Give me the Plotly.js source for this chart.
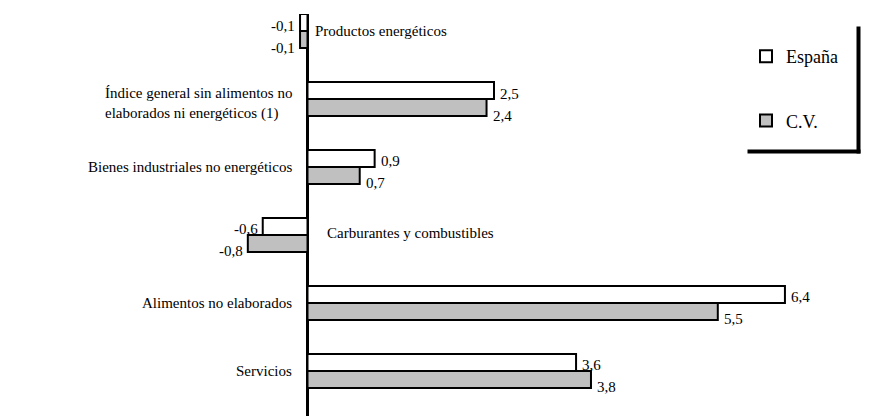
<!DOCTYPE html>
<html>
<head>
<meta charset="utf-8">
<script src="https://cdn.plot.ly/plotly-3.0.1.min.js"></script>
<style>
  html, body { margin: 0; padding: 0; background: #ffffff; }
  #chart { width: 893px; height: 416px; }
</style>
</head>
<body>
<div id="chart"></div>
<script>
// ---- data ----
var categories = [
  "Productos energéticos",
  "Índice general sin alimentos no<br>elaborados ni energéticos (1)",
  "Bienes industriales no energéticos",
  "Carburantes y combustibles",
  "Alimentos no elaborados",
  "Servicios"
];
var espana = [-0.1, 2.5, 0.9, -0.6, 6.4, 3.6];
var cv = [-0.1, 2.4, 0.7, -0.8, 5.5, 3.8];
var seriesNames = ["España", "C.V."];

// ---- styles ----
var FONT = "Liberation Serif";
var W = 893, H = 416, MT = 14, MB = 0;
var AXIS_PX = 307.5, PX_PER_UNIT = 74.6;
var xRange = [-AXIS_PX / PX_PER_UNIT, (W - AXIS_PX) / PX_PER_UNIT];
var bargap = 0.5;
var yRange = [5.662, -0.25];
// label shift (pixels) for labels drawn on the right of the axis
var rightLabelShift = {0: 6, 3: 18};

function fmt(v) { return v.toFixed(1).replace(".", ","); }

var traces = [
  {
    type: "bar", orientation: "h", name: seriesNames[0],
    y: categories, x: espana,
    marker: { color: "#ffffff", line: { color: "#000000", width: 2 } },
    legendgroup: "a", hoverinfo: "x+y"
  },
  {
    type: "bar", orientation: "h", name: seriesNames[1],
    y: categories, x: cv,
    marker: { color: "#c0c0c0", line: { color: "#000000", width: 2 } },
    legendgroup: "b", hoverinfo: "x+y"
  }
];

var annotations = [];
var half = (1 - bargap) / 4; // offset of each bar centre from category centre
categories.forEach(function (c, i) {
  // category label
  var neg = espana[i] < 0 && cv[i] < 0;
  var multi = c.indexOf("<br>") >= 0;
  annotations.push({
    x: 0, y: i, xref: "x", yref: "y",
    text: c, showarrow: false,
    xanchor: neg ? "left" : "right", yanchor: "middle",
    align: "left",
    xshift: neg ? (rightLabelShift[i] || 10) - 1 : -14,
    yshift: multi ? -4 : (neg && i > 0 ? 2 : 0),
    font: { family: FONT, size: 15, color: "#000000" }
  });
  // value labels
  [[espana, -half, -3], [cv, half, -8]].forEach(function (s) {
    var v = s[0][i];
    annotations.push({
      x: v, y: i + s[1], xref: "x", yref: "y",
      text: fmt(v), showarrow: false,
      xanchor: v < 0 ? "right" : "left", yanchor: "middle",
      xshift: v < 0 ? -3 : 4, yshift: s[2],
      font: { family: FONT, size: 15, color: "#000000" }
    });
  });
});

function px(x) { return x / W; }
function py(y) { return (H - y) / (H - MT - MB); }

var shapes = [
  { type: "line", xref: "paper", yref: "paper",
    x0: px(858.5), x1: px(858.5), y0: py(26.5), y1: py(153.5),
    line: { color: "#000000", width: 4 } },
  { type: "line", xref: "paper", yref: "paper",
    x0: px(747.5), x1: px(860.5), y0: py(151.5), y1: py(151.5),
    line: { color: "#000000", width: 4 } }
];

var layout = {
  width: W, height: H,
  margin: { l: 0, r: 0, t: MT, b: MB, pad: 0 },
  paper_bgcolor: "#ffffff", plot_bgcolor: "#ffffff",
  barmode: "group", bargap: bargap, bargroupgap: 0,
  font: { family: FONT, color: "#000000" },
  xaxis: {
    range: xRange, showgrid: false, showticklabels: false, ticks: "",
    zeroline: true, zerolinecolor: "#000000", zerolinewidth: 2.5,
    showline: false, fixedrange: true
  },
  yaxis: {
    type: "category", categoryorder: "array", categoryarray: categories,
    range: yRange, showgrid: false, showticklabels: false, ticks: "",
    zeroline: false, showline: false, fixedrange: true
  },
  showlegend: true,
  legend: {
    x: px(746), y: py(38), xanchor: "left", yanchor: "top",
    xref: "paper", yref: "paper",
    bgcolor: "rgba(0,0,0,0)", borderwidth: 0,
    traceorder: "grouped", tracegroupgap: 38,
    font: { family: FONT, size: 18, color: "#000000" }
  },
  annotations: annotations,
  shapes: shapes
};

Plotly.newPlot("chart", traces, layout, { displayModeBar: false, staticPlot: true });
</script>
</body>
</html>
